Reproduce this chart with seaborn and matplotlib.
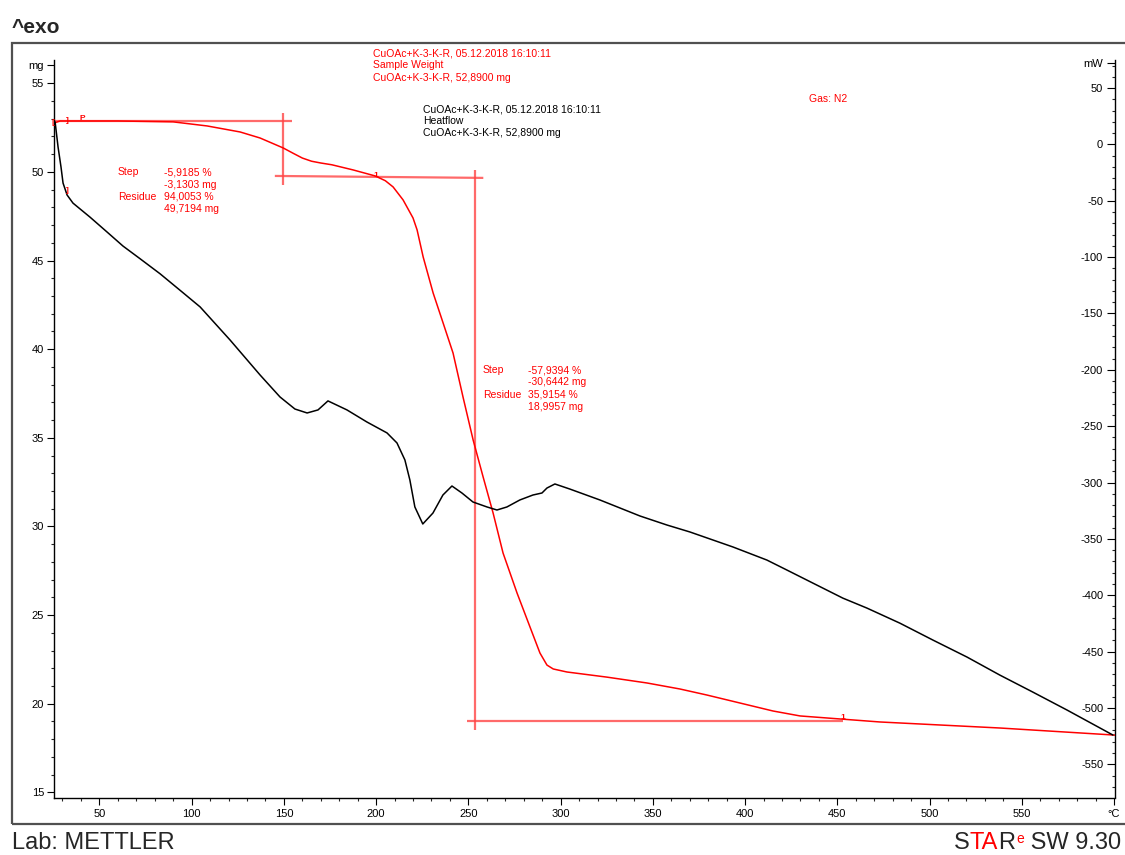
import numpy as np
import pandas as pd
import seaborn as sns
import matplotlib.pyplot as plt
from matplotlib.patches import Rectangle
from matplotlib.ticker import MultipleLocator


# TGA curve - sample weight (mg) vs temperature (°C)
tga_temp = [25.6, 28.7, 60.0, 90.0, 108.4, 126.3, 137.1, 149.6, 155.0, 160.0,
            165.0, 170.0, 176.0, 187.5, 199.5, 205.0, 209.2, 214.6, 220.0, 222.2,
            225.5, 230.9, 236.3, 241.7, 247.1, 252.6, 258.0, 263.4, 268.8, 276.4,
            283.4, 288.8, 292.6, 296.0, 303.4, 325.1, 346.8, 364.7, 379.3, 397.2,
            415.1, 429.8, 451.4, 473.1, 538.1, 600.5]
tga_mg = [52.76, 52.87, 52.87, 52.82, 52.59, 52.25, 51.91, 51.35, 51.05, 50.78,
          50.60, 50.50, 50.40, 50.11, 49.77, 49.50, 49.15, 48.42, 47.40, 46.73,
          45.20, 43.17, 41.48, 39.78, 37.30, 34.87, 32.79, 30.76, 28.50, 26.24,
          24.33, 22.86, 22.18, 21.96, 21.79, 21.50, 21.17, 20.83, 20.49, 20.04,
          19.59, 19.31, 19.14, 18.97, 18.63, 18.23]

# DSC curve - heat flow (mW) vs temperature (°C)
dsc_temp = [26.0, 27.6, 29.2, 30.3, 32.5, 35.7, 44.9, 54.2, 62.8, 72.1,
            82.9, 95.4, 104.6, 120.8, 137.1, 147.9, 156.0, 162.6, 168.5, 173.9,
            184.2, 195.0, 205.9, 211.3, 215.6, 218.3, 221.0, 225.3, 230.8, 236.2,
            241.1, 246.5, 252.5, 260.1, 265.5, 270.9, 277.9, 285.0, 289.9, 292.6,
            296.9, 305.0, 321.3, 343.0, 357.6, 370.1, 393.4, 411.8, 422.7, 436.8,
            453.0, 466.0, 483.9, 501.8, 520.3, 538.1, 556.0, 574.5, 599.4]
dsc_mw = [19.9, -2.3, -20.1, -34.3, -44.9, -52.1, -64.5, -77.8, -90.2, -101.5,
          -114.8, -131.7, -144.2, -173.5, -204.6, -224.1, -234.8, -238.3, -235.6, -227.6,
          -235.6, -246.3, -256.0, -264.9, -280.0, -297.8, -321.7, -336.8, -327.1, -311.1,
          -303.1, -309.3, -317.3, -321.7, -324.4, -321.7, -315.5, -311.1, -309.3, -304.9,
          -301.3, -305.8, -315.5, -329.7, -337.7, -343.9, -357.2, -368.8, -377.7, -389.3,
          -402.6, -411.4, -424.8, -439.8, -454.9, -470.9, -486.0, -501.9, -524.1]

# step evaluation lines (temp, mg)
eval_lines = [
    ([26.0, 154.6], [52.85, 52.85]),
    ([149.7, 149.7], [53.32, 49.26]),
    ([145.1, 258.1], [49.77, 49.66]),
    ([253.8, 253.8], [50.11, 18.52]),
    ([249.4, 453.0], [19.04, 19.04]),
]

x_ticks = [50, 100, 150, 200, 250, 300, 350, 400, 450, 500, 550, 600]
x_labels = ['50', '100', '150', '200', '250', '300', '350', '400', '450', '500', '550', '°C']
mg_ticks = [15, 20, 25, 30, 35, 40, 45, 50, 55, 56]
mg_labels = ['15', '20', '25', '30', '35', '40', '45', '50', '55', 'mg']
mw_ticks = [-550, -500, -450, -400, -350, -300, -250, -200, -150, -100, -50, 0, 50, 72]
mw_labels = ['-550', '-500', '-450', '-400', '-350', '-300', '-250', '-200', '-150',
             '-100', '-50', '0', '50', 'mW']

sns.set_theme(style='ticks')
plt.rcParams['font.family'] = ['Liberation Sans', 'DejaVu Sans']

W, H = 1125, 855
def fx(x):
    return x / W
def fy(y):
    return 1 - y / H

fig = plt.figure(figsize=(11.25, 8.55), dpi=100)
fig.patch.set_facecolor('white')
ax = fig.add_axes([fx(54), fy(797.5), (1115 - 54) / W, (797.5 - 60) / H])
ax2 = ax.twinx()

tga = pd.DataFrame({'temp': tga_temp, 'mg': tga_mg})
dsc = pd.DataFrame({'temp': dsc_temp, 'mw': dsc_mw})

for xs, ys in eval_lines:
    ax.plot(xs, ys, color='#ff4545', lw=1.6, alpha=0.8, solid_capstyle='butt')
sns.lineplot(data=tga, x='temp', y='mg', ax=ax, color='#ff0000', lw=1.1,
             estimator=None, sort=False)
sns.lineplot(data=dsc, x='temp', y='mw', ax=ax2, color='black', lw=1.1,
             estimator=None, sort=False)

ax.set_xlim(25.4, 600.5)
ax.set_ylim(14.71, 56.31)
ax2.set_ylim(-579.5, 74.9)
for a in (ax, ax2):
    a.set_xlabel('')
    a.set_ylabel('')
    a.set_facecolor('none')
    a.grid(False)

ax.set_xticks(x_ticks)
ax.set_xticklabels(x_labels)
ax.xaxis.set_minor_locator(MultipleLocator(10))
ax.set_yticks(mg_ticks)
ax.set_yticklabels(mg_labels)
ax.yaxis.set_minor_locator(MultipleLocator(1))
ax2.set_yticks(mw_ticks)
ax2.set_yticklabels(mw_labels)
ax2.yaxis.set_minor_locator(MultipleLocator(10))

ax.spines['top'].set_visible(False)
ax.spines['right'].set_visible(False)
for s in ('top', 'left', 'bottom'):
    ax2.spines[s].set_visible(False)
for a in (ax, ax2):
    for s in a.spines.values():
        s.set_color('black')
        s.set_linewidth(1.0)

ax.tick_params(axis='both', which='major', direction='out', length=5, width=0.8,
               labelsize=8, pad=2, colors='black')
ax.tick_params(axis='both', which='minor', direction='out', length=2.5, width=0.8)
ax.tick_params(axis='x', which='major', pad=3)
ax2.tick_params(axis='y', which='major', direction='in', length=5.5, width=0.8,
                labelsize=8, pad=-8.5, colors='black')
ax2.tick_params(axis='y', which='minor', direction='in', length=2.5, width=0.8)
plt.setp(ax2.get_yticklabels(), ha='right')

# outer frame
fig.add_artist(Rectangle((fx(12), fy(824)), 1.0, (824 - 43) / H, transform=fig.transFigure,
                         fill=False, edgecolor='#505050', lw=1.6))

red = '#ff0000'
fs = 7.5
# curve headers
for i, t in enumerate(['CuOAc+K-3-K-R, 05.12.2018 16:10:11', 'Sample Weight',
                       'CuOAc+K-3-K-R, 52,8900 mg']):
    fig.text(fx(373), fy(53.3 + 12.2 * i), t, color=red, fontsize=fs, va='center')
for i, t in enumerate(['CuOAc+K-3-K-R, 05.12.2018 16:10:11', 'Heatflow',
                       'CuOAc+K-3-K-R, 52,8900 mg']):
    fig.text(fx(423), fy(109.3 + 12.0 * i), t, color='black', fontsize=fs, va='center')
fig.text(fx(809), fy(99.3), 'Gas: N2', color=red, fontsize=fs, va='center')

# step results
def step_block(x0, x1, y0, vals):
    fig.text(fx(x0), fy(y0), 'Step', color=red, fontsize=fs, va='center')
    fig.text(fx(x0), fy(y0 + 24.5), 'Residue', color=red, fontsize=fs, va='center')
    for i, v in enumerate(vals):
        fig.text(fx(x1), fy(y0 + 12.25 * i), v, color=red, fontsize=fs, va='center')

step_block(118, 164, 172.3, ['-5,9185 %', '-3,1303 mg', '94,0053 %', '49,7194 mg'])
step_block(483, 528.5, 370, ['-57,9394 %', '-30,6442 mg', '35,9154 %', '18,9957 mg'])

# evaluation markers
for x, y, t in [(53, 123, '['), (67, 121, ']'), (82, 118, 'P'), (67, 191, ']'),
                (376, 175, '1'), (843, 717, '1')]:
    fig.text(fx(x), fy(y), t, color=red, fontsize=6, ha='center', va='center',
             fontweight='bold')

# page labels
fig.text(fx(12), fy(33), '^exo', fontsize=15, fontweight='bold', va='baseline')
fig.text(fx(12), fy(849), 'Lab: METTLER', fontsize=17, va='baseline')
t_s = fig.text(fx(954), fy(849), 'S', fontsize=17, va='baseline')
t_ta = ax.annotate('TA', xy=(1, 0), xycoords=t_s, va='bottom', ha='left',
                   fontsize=17, color=red)
t_r = ax.annotate('R', xy=(1, 0), xycoords=t_ta, va='bottom', ha='left', fontsize=17)
t_e = ax.annotate('e', xy=(1.05, 1.0), xycoords=t_r, va='top', ha='left',
                  fontsize=10, color=red)
ax.annotate(' SW 9.30', xy=(1, 0), xycoords=(t_e, t_r), va='bottom', ha='left',
            fontsize=17)

fig.savefig('out.png', dpi=100, facecolor='white')
